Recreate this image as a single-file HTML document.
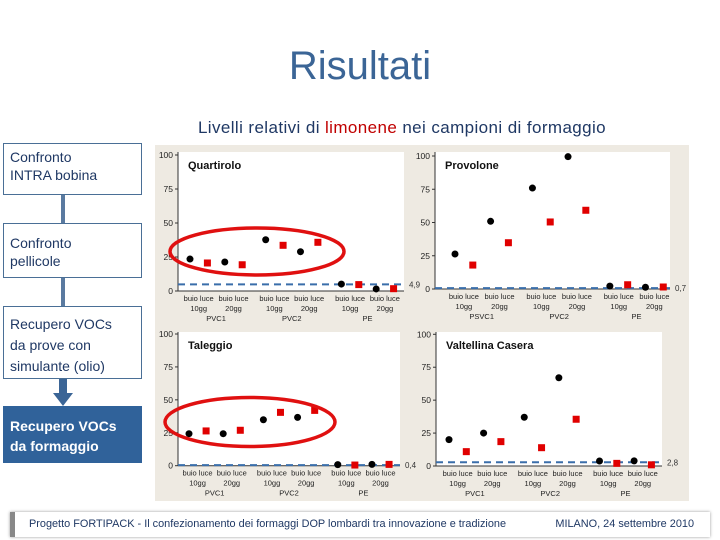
<!DOCTYPE html>
<html><head><meta charset="utf-8"><style>
body{margin:0;width:720px;height:540px;background:#fff;position:relative;overflow:hidden;font-family:"Liberation Sans",sans-serif}
.box{position:absolute;left:3px;width:139px;border:1px solid #4a6f96;background:#fff;color:#1f3864;font-size:14px;line-height:18px;padding:4px 0 0 6px;box-sizing:border-box}
.arr{position:absolute;left:61px;width:4px;background:#5a7aa0}
</style></head><body>
<div style="position:absolute;left:0;width:720px;top:44px;text-align:center;font-size:40px;color:#3b6596">Risultati</div>
<div style="position:absolute;left:152px;width:500px;top:118px;text-align:center;font-size:17px;letter-spacing:0.4px;color:#1f3864">Livelli relativi di <span style="color:#c00000">limonene</span> nei campioni di formaggio</div>
<div class="box" style="top:143px;height:52px">Confronto<br>INTRA bobina</div>
<div class="arr" style="top:195px;height:28px"></div>
<div class="box" style="top:223px;height:55px;padding-top:10px">Confronto<br>pellicole</div>
<div class="arr" style="top:278px;height:28px"></div>
<div class="box" style="top:306px;height:73px;padding-top:7px;line-height:21px">Recupero VOCs<br>da prove con<br>simulante (olio)</div>
<div class="arr" style="top:379px;height:16px;width:8px;left:59px;background:#3b6596"></div>
<div style="position:absolute;left:53px;top:393px;border-left:10px solid transparent;border-right:10px solid transparent;border-top:13px solid #3b6596"></div>
<div class="box" style="top:406px;height:57px;background:#30629a;border-color:#30629a;color:#fff;font-weight:bold;padding-top:9px;line-height:20px">Recupero VOCs<br>da formaggio</div>
<svg id="ch" style="position:absolute;left:0;top:0" width="720" height="540"></svg>
<div style="position:absolute;left:10px;top:512px;width:700px;height:25px;background:#fff;border-left:5px solid #888;box-shadow:0 0 3px #999;box-sizing:border-box;font-size:10.9px;color:#1f3864;line-height:25px">
<span style="position:absolute;left:14px">Progetto FORTIPACK - Il confezionamento dei formaggi DOP lombardi tra innovazione e tradizione</span>
<span style="position:absolute;right:16px">MILANO, 24 settembre 2010</span></div>
<script>
const panelNames=["Quartirolo","Provolone","Taleggio","Valtellina Casera"];
const groupLabels=[["PVC1","PVC2","PE"],["PSVC1","PVC2","PE"],["PVC1","PVC2","PE"],["PVC1","PVC2","PE"]];
const yTicks=[0,25,50,75,100];
const buioQ=[23.5,21.3,37.7,28.9,5.1,1.5], luceQ=[20.6,19.3,33.6,35.8,4.7,1.7];
const buioP=[26.3,50.9,75.9,99.5,2.2,1.3], luceP=[18,34.8,50.4,59.2,3.2,1.5];
const buioT=[24.3,24.3,34.9,36.7,0.8,1], luceT=[26.4,26.9,40.5,42,0.5,1];
const buioV=[20,25,37,67,3.8,3.9], luceV=[10.9,18.5,13.9,35.5,2,0.9];
const refVals=[4.9,0.7,0.4,2.8], refLabels=["4,9","0,7","0,4","2,8"];
const buio=[buioQ,buioP,buioT,buioV], luce=[luceQ,luceP,luceT,luceV];
const ell=[true,false,true,false];
const layout=[{ax:178,r:404,t:152,y0:291,y100:155,x0:190,step:17.4},{ax:435,r:670,t:152,y0:289,y100:156,x0:455,step:17.8},{ax:178,r:400,t:332,y0:465.7,y100:334,x0:189,step:17.1},{ax:436,r:662,t:332,y0:466,y100:334.3,x0:449,step:17.3}];
const slot=[0,1,2,3,4.35,5.35,6.35,7.35,8.7,9.7,10.7,11.7];
const svg=document.getElementById('ch');const NS="http://www.w3.org/2000/svg";
function mk(t,a,p){const e=document.createElementNS(NS,t);for(const k in a)e.setAttribute(k,a[k]);(p||svg).appendChild(e);return e;}
const bg=mk('rect',{x:155,y:145,width:534,height:356,fill:'#eeeae2'});

layout.forEach((L,p)=>{
 const g=mk('g',{});
 const Y=v=>L.y0-(L.y0-L.y100)*v/100, X=i=>L.x0+slot[i]*L.step;
 mk('rect',{x:L.ax,y:L.t,width:L.r-L.ax,height:L.y0-L.t,fill:'#fff'},g);
 mk('line',{x1:L.ax,y1:L.t,x2:L.ax,y2:L.y0,stroke:'#333','stroke-width':1},g);
 mk('line',{x1:L.ax,y1:L.y0,x2:L.r,y2:L.y0,stroke:'#333','stroke-width':1},g);
 yTicks.forEach(v=>{mk('line',{x1:L.ax-3,y1:Y(v),x2:L.ax,y2:Y(v),stroke:'#333'},g);
  const t=mk('text',{x:L.ax-5,y:Y(v)+3,'text-anchor':'end','font-size':8.5,fill:'#222'},g);t.textContent=v;
  });
 const tt=mk('text',{x:L.ax+10,y:L.t+17,'font-size':11,'font-weight':'bold',fill:'#111'},g);tt.textContent=panelNames[p];
 
 const rl=mk('line',{x1:L.ax,y1:Y(refVals[p]),x2:L.r,y2:Y(refVals[p]),stroke:'#3a6eaa','stroke-width':2,'stroke-dasharray':'7,5'},g);
 
 const rt=mk('text',{x:L.r+5,y:Y(refVals[p])+3,'font-size':8,fill:'#333'},g);rt.textContent=refLabels[p];
 for(let k=0;k<6;k++){
  const cx=(X(2*k)+X(2*k+1))/2;
  const a=mk('text',{x:cx,y:L.y0+10,'text-anchor':'middle','font-size':7.5,fill:'#222'},g);a.textContent='buio luce';
  const b=mk('text',{x:cx,y:L.y0+20,'text-anchor':'middle','font-size':7.5,fill:'#222'},g);b.textContent=k%2?'20gg':'10gg';
  if(k%2){const c=mk('text',{x:(X(2*k-2)+X(2*k+1))/2,y:L.y0+30,'text-anchor':'middle','font-size':7.5,fill:'#222'},g);c.textContent=groupLabels[p][(k-1)/2];}
 }
 buio[p].forEach((v,k)=>{const c=mk('circle',{cx:X(2*k),cy:Y(v),r:3.5,fill:'#000'},g);
  });
 luce[p].forEach((v,k)=>{const r=mk('rect',{x:X(2*k+1)-3.5,y:Y(v)-3.5,width:7,height:7,fill:'#e00000'},g);
  });
 if(ell[p]){const e=mk('ellipse',{cx:p?250:257,cy:p?422:251.5,rx:p?85:87,ry:p?24.5:23.5,fill:'none',stroke:'#e01010','stroke-width':3.5},g);
  }
});
</script>
</body></html>
